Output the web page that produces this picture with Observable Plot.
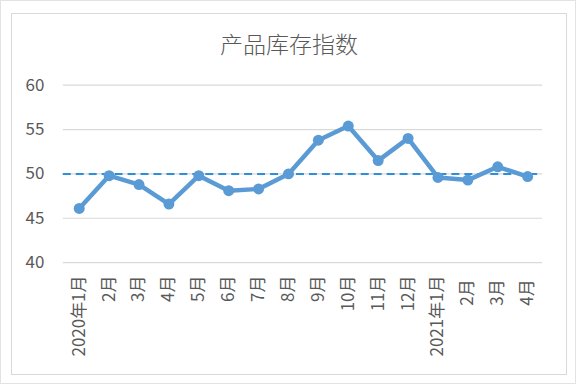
<!DOCTYPE html>
<html><head><meta charset="utf-8">
<script src="https://cdn.jsdelivr.net/npm/d3@7"></script>
<script src="https://cdn.jsdelivr.net/npm/@observablehq/plot@0.6"></script>
<style>
html,body{margin:0;padding:0;background:#fff;}
#wrap{position:relative;width:576px;height:384px;box-sizing:border-box;border:1px solid #e3e3e3;overflow:hidden;font-family:"Noto Sans CJK SC","Noto Sans",sans-serif;}
#box{position:absolute;left:10px;top:12px;width:556px;height:362px;box-sizing:border-box;border:1.5px solid #d9d9d9;}
#title{position:absolute;left:10px;width:556px;top:26px;text-align:center;font-size:23px;line-height:33px;color:#595959;font-weight:300;}
#chart{position:absolute;left:0;top:0;}
</style></head>
<body>
<div id="wrap"><div id="box"></div><div id="title">产品库存指数</div><div id="chart"></div></div>
<script>
const months = ["2020年1月","2月","3月","4月","5月","6月","7月","8月","9月","10月","11月","12月","2021年1月","2月 ","3月 ","4月 "];
const values = [46.1,49.8,48.8,46.6,49.8,48.1,48.3,50.0,53.8,55.4,51.5,54.0,49.6,49.3,50.8,49.7];
const yTicks = [40,45,50,55,60];
const reference = [50];
const data = months.map((m,i)=>({m, v: values[i]}));
const chart = Plot.plot({
  width: 576, height: 384,
  marginLeft: 62, marginRight: 33, marginTop: 84, marginBottom: 122,
  style: {fontFamily: '"Noto Sans CJK SC","Noto Sans",sans-serif', background: "transparent", color: "#595959"},
  x: {type: "point", domain: months, padding: 0.5, label: null},
  y: {domain: [40,60], ticks: yTicks, label: null},
  marks: [
    Plot.ruleY(yTicks, {stroke: "#d9d9d9", strokeWidth: 1.2}),
    Plot.ruleY(reference, {stroke: "#2e8ede", strokeWidth: 2, strokeDasharray: "8,5"}),
    Plot.line(data, {x: "m", y: "v", stroke: "#5b9bd5", strokeWidth: 4.5, strokeLinejoin: "round"}),
    Plot.dot(data, {x: "m", y: "v", r: 5.5, fill: "#5b9bd5"}),
    Plot.axisY({ticks: yTicks, tickSize: 0, tickPadding: 19, fontSize: 17, fill: "#595959"}),
    Plot.axisX({tickSize: 0, tickPadding: 13, tickRotate: -90, fontSize: 17, fill: "#595959"})
  ]
});
document.getElementById("chart").appendChild(chart);
</script>
</body></html>
